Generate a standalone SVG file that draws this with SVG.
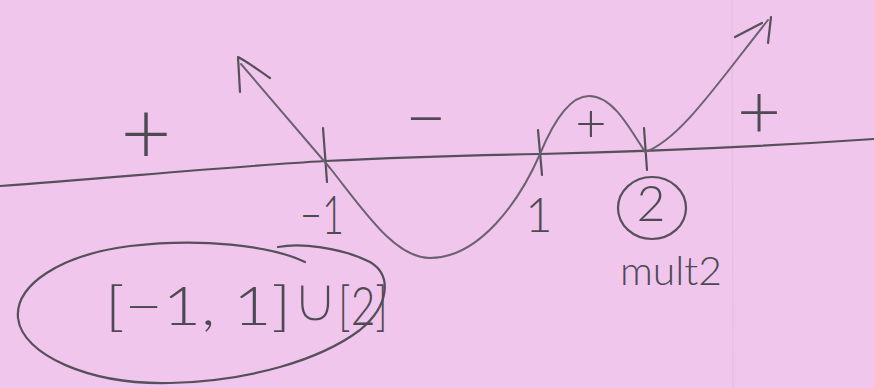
<svg xmlns="http://www.w3.org/2000/svg" width="874" height="388" viewBox="0 0 874 388">
  <style>
    .pen { fill: none; stroke: #55505a; stroke-width: 2.2; stroke-linecap: round; stroke-linejoin: round; }
    .soft { fill: none; stroke: #6a6270; stroke-width: 2; stroke-linecap: round; stroke-linejoin: round; }
    .hand { font-family: Lato, "Open Sans", "DejaVu Sans", sans-serif; font-weight: 300; fill: #4e4a54; }
    .sym { font-family: "DejaVu Sans", sans-serif; font-weight: 200; font-size: 66px; fill: #4e4a54; stroke: #f1c6ec; stroke-width: 3.2; }
  </style>
  <rect x="0" y="0" width="874" height="388" fill="#f1c6ec"/>
  <line x1="732" y1="0" x2="733" y2="388" stroke="#e9bde4" stroke-width="1.5"/>

  <g id="number-line">
    <path class="pen" d="M 0,186 C 120,177 240,166 325,161 C 420,156 480,155 540,154 C 700,150 800,144 874,139"/>
    <path class="pen" d="M 323,128 L 327,182"/>
    <path class="pen" d="M 538,130 L 542,175"/>
    <path class="pen" d="M 644,128 L 647,170"/>
  </g>

  <g id="curve">
    <path class="soft" d="M 241,64 L 330,168 C 365,212 395,258 430,258 C 480,258 520,200 540,154 C 552,125 568,96 589,96 C 612,96 628,125 645,152 C 680,140 720,80 768,20"/>
    <path class="pen" d="M 240,92 L 238,57 C 248,62 258,70 270,78"/>
    <path class="pen" stroke-width="3.5" d="M 735,37 L 762,23"/>
    <path class="pen" d="M 771,17 C 770,26 769,34 768,43"/>
  </g>

  <g id="signs">
    <text class="hand" x="146" y="164" font-size="88" text-anchor="middle">+</text>
    <text class="hand" x="426" y="143" font-size="72" text-anchor="middle">−</text>
    <text class="hand" x="591" y="142" font-size="54" text-anchor="middle">+</text>
    <text class="hand" x="759" y="138" font-size="76" text-anchor="middle">+</text>
  </g>

  <g id="roots">
    <text class="hand" x="300" y="234" font-size="54" textLength="44" lengthAdjust="spacingAndGlyphs">−1</text>
    <text class="hand" x="539" y="232" font-size="47" text-anchor="middle">1</text>
    <g id="root-2">
      <ellipse class="pen" cx="652" cy="208" rx="34" ry="31"/>
      <text class="hand" x="651" y="221" font-size="50" text-anchor="middle">2</text>
    </g>
    <text class="hand" x="620" y="285" font-size="40" textLength="102" lengthAdjust="spacingAndGlyphs">mult2</text>
  </g>

  <g id="answer">
    <path class="pen" d="M 305,262 C 270,245 200,238 130,246 C 60,255 15,285 18,318 C 22,355 90,385 170,383 C 250,381 320,360 360,330 C 390,305 392,275 370,262 C 340,247 300,243 278,247"/>
    <text class="hand" x="105" y="325" font-size="54" textLength="186" lengthAdjust="spacingAndGlyphs">[−1, 1]</text>
    <text class="sym" x="315" y="322" text-anchor="middle">∪</text>
    <text class="hand" x="338" y="325" font-size="54" textLength="50" lengthAdjust="spacingAndGlyphs">[2]</text>
  </g>
</svg>
